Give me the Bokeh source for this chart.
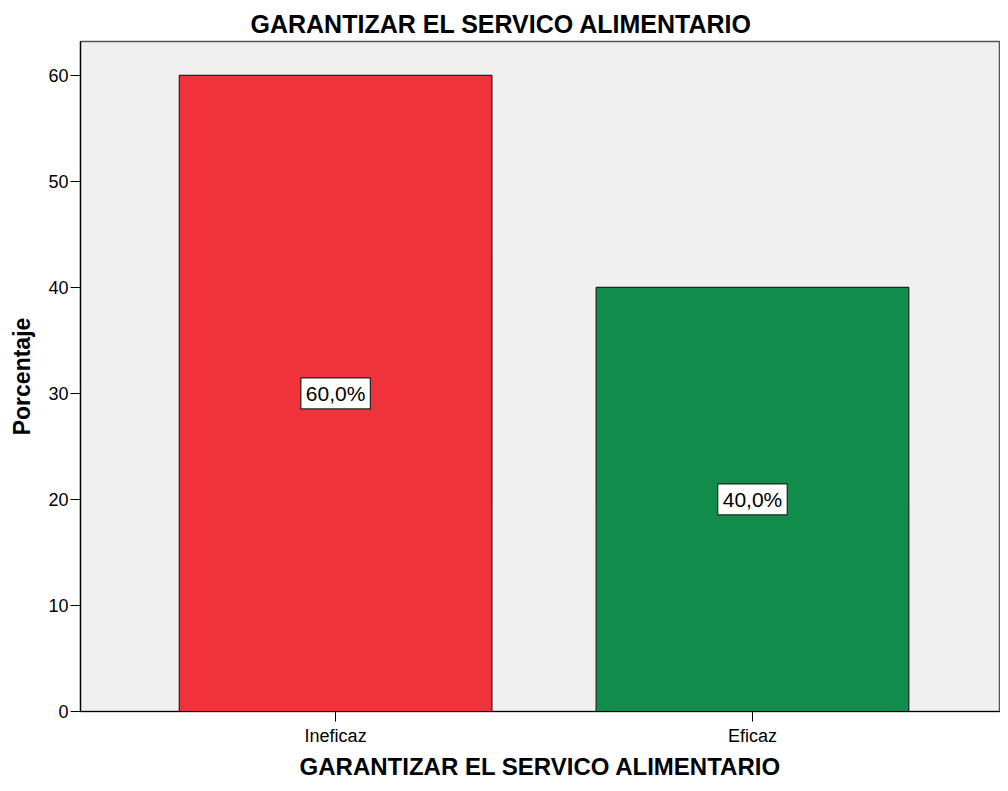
from bokeh.plotting import figure
from bokeh.models import ColumnDataSource, Range1d, FixedTicker, Title
from bokeh.core.properties import value
from bokeh.embed import file_html
from bokeh.resources import INLINE

# ---- data ----
categories = ["Ineficaz", "Eficaz"]
percentages = [60.0, 40.0]
bar_labels = ["60,0%", "40,0%"]
bar_colors = ["#F0323A", "#128C4A"]
title_text = "GARANTIZAR EL SERVICO ALIMENTARIO"
x_title = "GARANTIZAR EL SERVICO ALIMENTARIO"
y_title = "Porcentaje"
y_ticks = [0, 10, 20, 30, 40, 50, 60]

xs = [i + 1 for i in range(len(categories))]
src = ColumnDataSource(dict(
    x=xs, top=percentages, color=bar_colors, label=bar_labels,
    mid=[v / 2 for v in percentages],
))

FONT = "Liberation Sans"

p = figure(width=1000, height=783, output_backend="svg", toolbar_location=None,
           x_range=Range1d(0.388, 2.595), y_range=Range1d(0, 63.2),
           min_border_left=80, min_border_right=0, min_border_top=41,
           min_border_bottom=72)

p.vbar(x="x", top="top", width=0.75, source=src, fill_color="color",
       line_color="#222222", line_width=1.2)

p.text(x="x", y="mid", text="label", source=src,
       text_align="center", text_baseline="middle",
       text_font=value(FONT), text_font_size="21px", text_color="#000000",
       background_fill_color="white", border_line_color="#222222",
       border_line_width=1.2, padding=(5, 4))

p.background_fill_color = "#F0F0F0"
p.border_fill_color = "white"
p.outline_line_color = "#555555"
p.outline_line_width = 1.5
p.grid.visible = False

# title
p.title.text = title_text
p.title.align = "left"
p.title.offset = 170
p.title.standoff = 8
p.title.text_font = FONT
p.title.text_font_size = "25px"
p.title.text_font_style = "bold"
p.title.text_color = "#000000"

# x axis
xa = p.xaxis[0]
xa.ticker = FixedTicker(ticks=xs)
xa.major_label_overrides = {x: c for x, c in zip(xs, categories)}
xa.major_label_text_font = FONT
xa.major_label_text_font_size = "18px"
xa.major_label_text_color = "#000000"
xa.major_tick_out = 10
xa.major_tick_in = 0
xa.minor_tick_line_color = None
xa.axis_line_color = "#000000"
xa.axis_line_width = 1.2
xa.major_tick_line_color = "#000000"
xa.major_label_standoff = 4

p.add_layout(Title(text=x_title, align="center", text_font=FONT,
                   text_font_size="24px", text_font_style="bold",
                   text_color="#000000", standoff=5), "below")

# y axis
ya = p.yaxis[0]
ya.ticker = FixedTicker(ticks=y_ticks)
ya.axis_label = y_title
ya.axis_label_text_font = FONT
ya.axis_label_text_font_size = "23px"
ya.axis_label_text_font_style = "bold"
ya.axis_label_text_color = "#000000"
ya.axis_label_standoff = 10
ya.major_label_text_font = FONT
ya.major_label_text_font_size = "18px"
ya.major_label_text_color = "#000000"
ya.major_tick_out = 10
ya.major_tick_in = 0
ya.minor_tick_line_color = None
ya.axis_line_color = "#000000"
ya.axis_line_width = 1.2
ya.major_tick_line_color = "#000000"
ya.major_label_standoff = 2

open("out.html", "w").write(file_html(p, INLINE))
